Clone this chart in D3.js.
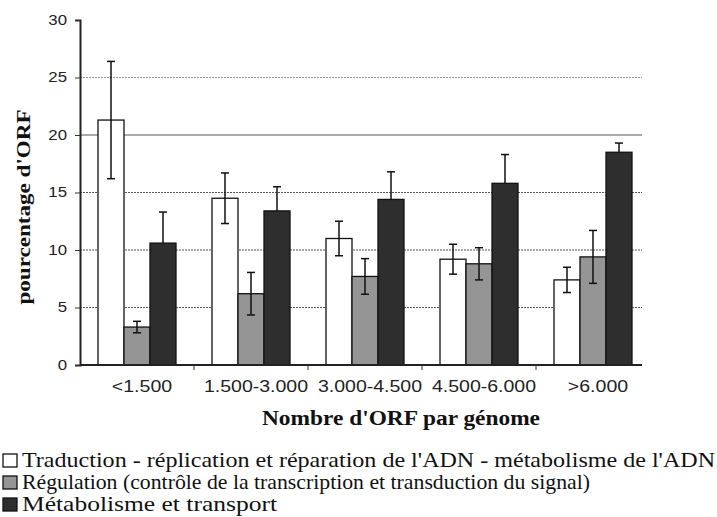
<!DOCTYPE html>
<html>
<head>
<meta charset="utf-8">
<script src="https://cdn.jsdelivr.net/npm/d3@7"></script>
<style>
  html, body { margin: 0; padding: 0; background: #fff; }
  svg { display: block; }
  text.serif { font-family: "Liberation Serif", serif; }
</style>
</head>
<body>
<svg id="chart" width="717" height="517"></svg>
<script>
// ---- Data ----
const categories = ["<1.500", "1.500-3.000", "3.000-4.500", "4.500-6.000", ">6.000"];
const seriesNames = [
  "Traduction - réplication et réparation de l'ADN - métabolisme de l'ADN",
  "Régulation (contrôle de la transcription et transduction du signal)",
  "Métabolisme et transport"
];
const traduction    = [21.3, 14.5, 11.0, 9.2, 7.4];
const traductionErr = [5.1, 2.2, 1.5, 1.3, 1.1];
const regulation    = [3.3, 6.2, 7.7, 8.8, 9.4];
const regulationErr = [0.5, 1.85, 1.55, 1.4, 2.3];
const metabolisme    = [10.6, 13.4, 14.4, 15.8, 18.5];
const metabolismeErr = [2.7, 2.1, 2.4, 2.5, 0.8];
const yTicks = [0, 5, 10, 15, 20, 25, 30];
const yTitle = "pourcentage d'ORF";
const xTitle = "Nombre d'ORF par génome";

const seriesValues = [traduction, regulation, metabolisme];
const seriesErrors = [traductionErr, regulationErr, metabolismeErr];
const seriesFill = ["#ffffff", "#959595", "#2e2e2e"];
const showLowerErr = [true, true, false];

const SANS = "'Liberation Sans', Arial, sans-serif";

const svg = d3.select("#chart");

function stretch(sel, factor) {
  sel.each(function () {
    const w = this.getComputedTextLength();
    this.setAttribute("textLength", w * factor);
    this.setAttribute("lengthAdjust", "spacingAndGlyphs");
  });
}
function fitWidth(sel, width) {
  sel.attr("textLength", width).attr("lengthAdjust", "spacingAndGlyphs");
}

// ---- Scales ----
const plotLeft = 80, plotRight = 642;
const x0 = d3.scaleBand().domain(categories).range([80, 650]).padding(0);
const x1 = d3.scaleBand().domain([0, 1, 2]).range([18, 96]).padding(0);
const y = d3.scaleLinear().domain([0, 30]).range([365, 20]);

// ---- Gridlines ----
svg.append("g").selectAll("line")
  .data(yTicks.filter(d => d > 0 && d < 30))
  .join("line")
  .attr("x1", plotLeft).attr("x2", plotRight)
  .attr("y1", d => y(d)).attr("y2", d => y(d))
  .attr("stroke", d => d === 25 ? "#9a9a9a" : "#555")
  .attr("stroke-width", 1)
  .attr("stroke-dasharray", d => d === 20 ? null : "2,1");

// ---- Bars ----
const groups = svg.append("g").selectAll("g")
  .data(categories)
  .join("g")
  .attr("transform", c => `translate(${x0(c)},0)`);

seriesValues.forEach((vals, si) => {
  groups.append("rect")
    .attr("x", x1(si))
    .attr("width", x1.bandwidth())
    .attr("y", (c, i) => y(vals[i]))
    .attr("height", (c, i) => y(0) - y(vals[i]))
    .attr("fill", seriesFill[si])
    .attr("stroke", "#111")
    .attr("stroke-width", 1.3);
});

// ---- Error bars ----
seriesValues.forEach((vals, si) => {
  const errs = seriesErrors[si];
  const cx = x1(si) + x1.bandwidth() / 2;
  const eg = groups.append("g").attr("stroke", "#111").attr("stroke-width", 1.5);
  eg.append("line")
    .attr("x1", cx).attr("x2", cx)
    .attr("y1", (c, i) => y(vals[i] + errs[i]))
    .attr("y2", (c, i) => showLowerErr[si] ? y(vals[i] - errs[i]) : y(vals[i]));
  eg.append("line")
    .attr("x1", cx - 4).attr("x2", cx + 4)
    .attr("y1", (c, i) => y(vals[i] + errs[i]))
    .attr("y2", (c, i) => y(vals[i] + errs[i]));
  if (showLowerErr[si]) {
    eg.append("line")
      .attr("x1", cx - 4).attr("x2", cx + 4)
      .attr("y1", (c, i) => y(vals[i] - errs[i]))
      .attr("y2", (c, i) => y(vals[i] - errs[i]));
  }
});

// ---- Y axis ----
const yAxis = svg.append("g")
  .attr("transform", `translate(${plotLeft},0)`)
  .call(d3.axisLeft(y).tickValues(yTicks).tickSize(5).tickPadding(8).tickFormat(d3.format("d")));
yAxis.select(".domain").attr("stroke", "#222").attr("stroke-width", 2);
yAxis.selectAll(".tick line").attr("stroke", "#333");
yAxis.selectAll("text")
  .attr("font-family", SANS).attr("font-size", 14).attr("fill", "#222");
stretch(yAxis.selectAll("text"), 1.2);

// ---- X axis ----
svg.append("line")
  .attr("x1", plotLeft).attr("x2", plotRight)
  .attr("y1", y(0)).attr("y2", y(0))
  .attr("stroke", "#222").attr("stroke-width", 2);
svg.append("g").selectAll("line")
  .data(categories.slice(1))
  .join("line")
  .attr("x1", c => x0(c)).attr("x2", c => x0(c))
  .attr("y1", y(0)).attr("y2", y(0) + 5)
  .attr("stroke", "#333");
const xl = svg.append("g").selectAll("text")
  .data(categories)
  .join("text")
  .attr("x", c => x0(c) + x0.bandwidth() / 2 + 5)
  .attr("y", 392)
  .attr("text-anchor", "middle")
  .attr("font-family", SANS).attr("font-size", 16).attr("fill", "#222")
  .text(c => c);
stretch(xl, 1.22);

// ---- Axis titles ----
svg.append("text")
  .attr("class", "serif")
  .attr("transform", `translate(30,${207}) rotate(-90)`)
  .attr("text-anchor", "middle")
  .attr("font-weight", "bold").attr("font-size", 19)
  .attr("fill", "#111")
  .text(yTitle)
  .call(fitWidth, 195);

svg.append("text")
  .attr("class", "serif")
  .attr("x", 401).attr("y", 425)
  .attr("text-anchor", "middle")
  .attr("font-weight", "bold").attr("font-size", 20)
  .attr("fill", "#111")
  .text(xTitle)
  .call(fitWidth, 278);

// ---- Legend ----
const legendWidths = [693, 568, 255];
const legendG = svg.append("g");
seriesNames.forEach((name, i) => {
  const ly = 467 + i * 22;
  legendG.append("rect")
    .attr("x", 3).attr("y", ly - 13).attr("width", 14).attr("height", 13)
    .attr("fill", seriesFill[i])
    .attr("stroke", "#111").attr("stroke-width", 1.3);
  legendG.append("text")
    .attr("class", "serif")
    .attr("x", 22).attr("y", ly)
    .attr("font-weight", "normal")
    .attr("font-size", 21).attr("fill", "#111")
    .text(name)
    .call(fitWidth, legendWidths[i]);
});
</script>
</body>
</html>
